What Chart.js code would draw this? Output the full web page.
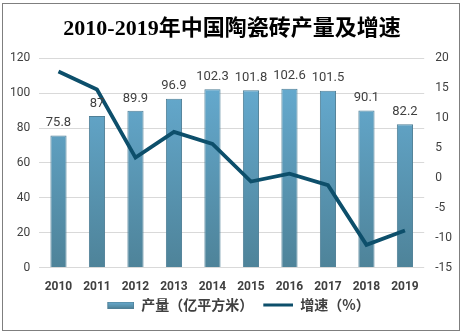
<!DOCTYPE html>
<html><head><meta charset="utf-8">
<script src="https://cdn.jsdelivr.net/npm/chart.js@4/dist/chart.umd.min.js"></script>
<style>
html,body{margin:0;padding:0;background:#fff;}
#wrap{position:relative;width:463px;height:334px;}
#frame{position:absolute;left:2px;top:3px;width:456px;height:326px;border:1px solid #7f7f7f;pointer-events:none;}
canvas{position:absolute;left:0;top:0;}
</style></head>
<body>
<div id="wrap"><canvas id="c" width="463" height="334"></canvas><div id="frame"></div></div>
<script>
const years = ['2010','2011','2012','2013','2014','2015','2016','2017','2018','2019'];
const production = [75.8, 87, 89.9, 96.9, 102.3, 101.8, 102.6, 101.5, 90.1, 82.2];
const growth = [17.8, 14.8, 3.4, 7.7, 5.7, -0.6, 0.7, -1.2, -11.2, -8.8];
const titleText = '2010-2019年中国陶瓷砖产量及增速';
const legendBar = '产量（亿平方米）';
const legendLine = '增速（%）';

const lineColor = '#0d4f6b';
const cjk = '"Noto Sans CJK SC", "DejaVu Sans", sans-serif';
const tickFont = 'Roboto, "Liberation Sans", Arial, sans-serif';

function barGradient(ctx, area) {
  const g = ctx.createLinearGradient(0, area.top, 0, area.bottom);
  g.addColorStop(0, '#68afd6');
  g.addColorStop(1, '#4e8399');
  return g;
}

// legend swatches (40px wide boxes, drawn right-aligned)
const SW = 40;
const sw1 = document.createElement('canvas'); sw1.width = SW; sw1.height = 7;
(function(){const x=sw1.getContext('2d');const g=x.createLinearGradient(0,0,0,7);g.addColorStop(0,'#6aaed3');g.addColorStop(1,'#4e8399');x.fillStyle=g;x.fillRect(SW-27,0,27,7);x.strokeStyle='#4f7f96';x.lineWidth=1;x.strokeRect(SW-26.5,0.5,26,6);})();
const sw2 = document.createElement('canvas'); sw2.width = SW; sw2.height = 4;
(function(){const x=sw2.getContext('2d');x.fillStyle=lineColor;x.fillRect(SW-30,0.5,30,3);})();

const valueLabels = {
  id: 'valueLabels',
  afterDatasetsDraw(chart) {
    const ctx = chart.ctx;
    const meta = chart.getDatasetMeta(0);
    ctx.save();
    ctx.font = '13px ' + tickFont;
    ctx.fillStyle = '#404040';
    ctx.textAlign = 'center';
    ctx.textBaseline = 'bottom';
    meta.data.forEach((bar, i) => {
      ctx.fillText(String(production[i]), bar.x, bar.y - 6);
    });
    ctx.restore();
  }
};

new Chart(document.getElementById('c'), {
  data: {
    labels: years,
    datasets: [
      {
        type: 'bar', label: legendBar, data: production, yAxisID: 'y',
        backgroundColor: (c) => { const a = c.chart.chartArea; if (!a) return '#5d9bbd'; return barGradient(c.chart.ctx, a); },
        borderColor: '#4f7f96', borderWidth: 1,
        barPercentage: 0.42, categoryPercentage: 1.0, order: 2
      },
      {
        type: 'line', label: legendLine, data: growth, yAxisID: 'y1',
        borderColor: lineColor, borderWidth: 3.8, pointRadius: 0, tension: 0, fill: false, order: 1
      }
    ]
  },
  options: {
    responsive: false, animation: false,
    layout: { padding: { left: 1, right: 0, top: 6, bottom: 12 } },
    plugins: {
      title: { display: true, text: titleText, color: '#000',
        font: { family: '"Liberation Serif", "Noto Sans CJK SC", serif', size: 22, weight: 'bold' },
        padding: { top: 10, bottom: 16 } },
      legend: { position: 'bottom',
        labels: {
          usePointStyle: true, pointStyleWidth: SW, color: '#404040', padding: 0,
          font: { family: cjk, size: 14, weight: 'bold' },
          generateLabels: (chart) => [
            { text: legendBar, pointStyle: sw1, fillStyle: '#5d9bbd', strokeStyle: '#5d9bbd', lineWidth: 0, datasetIndex: 0, fontColor: '#404040' },
            { text: legendLine, pointStyle: sw2, fillStyle: lineColor, strokeStyle: lineColor, lineWidth: 0, datasetIndex: 1, fontColor: '#404040' }
          ]
        } },
      tooltip: { enabled: false }
    },
    scales: {
      x: {
        grid: { display: false }, border: { display: false },
        ticks: { color: '#404040', font: { family: tickFont, size: 12, weight: 'bold' }, padding: 4 }
      },
      y: {
        position: 'left', min: 0, max: 120,
        ticks: { stepSize: 20, color: '#404040', font: { family: tickFont, size: 12 }, padding: 9 },
        grid: { color: '#d9d9d9', drawTicks: false }, border: { display: false }
      },
      y1: {
        position: 'right', min: -15, max: 20,
        ticks: { stepSize: 5, color: '#404040', font: { family: tickFont, size: 12 }, padding: 11 },
        grid: { display: false, drawTicks: false }, border: { display: false }
      }
    }
  },
  plugins: [valueLabels]
});
</script>
</body></html>
